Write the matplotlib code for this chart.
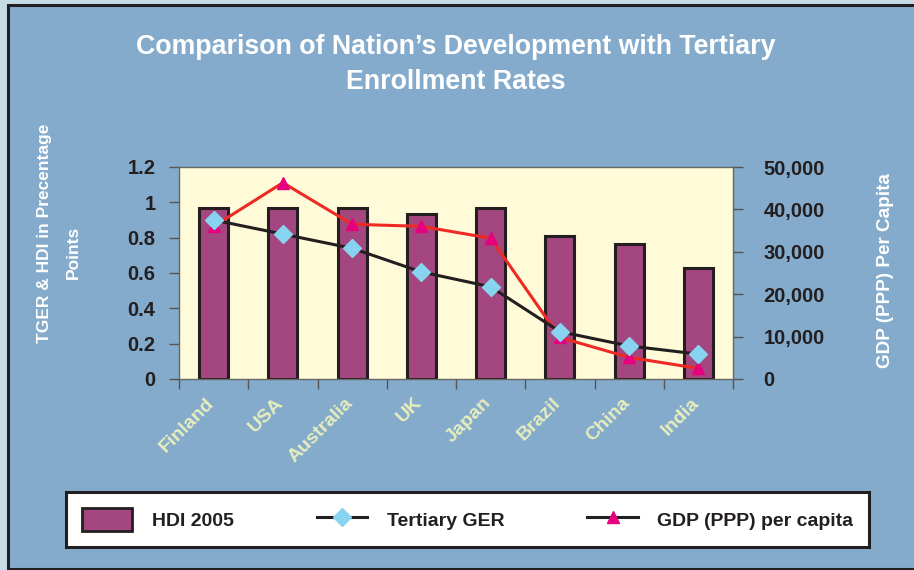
import matplotlib
matplotlib.use("Agg")
import matplotlib.pyplot as plt
from matplotlib.patches import Rectangle, Patch
from matplotlib.lines import Line2D
from matplotlib.ticker import FuncFormatter, FixedLocator
import matplotlib.transforms as mtransforms

# ---- data ----
countries = ["Finland", "USA", "Australia", "UK", "Japan", "Brazil", "China", "India"]
hdi_2005 = [0.966, 0.966, 0.966, 0.936, 0.966, 0.810, 0.764, 0.628]
tertiary_ger = [0.90, 0.82, 0.74, 0.606, 0.522, 0.268, 0.187, 0.141]
gdp_ppp = [36000, 46300, 36500, 36000, 33200, 9800, 5100, 2500]
left_ticks = [0, 0.2, 0.4, 0.6, 0.8, 1.0, 1.2]
left_tick_labels = ["0", "0.2", "0.4", "0.6", "0.8", "1", "1.2"]
right_ticks = [0, 10000, 20000, 30000, 40000, 50000]

# ---- style ----
BG = "#84abcb"
PLOT_BG = "#fffad7"
BAR = "#a4467f"
DIAMOND = "#87d3f0"
TRI = "#e6007e"
REDLINE = "#ee2a24"
DARK = "#231f20"
LABEL_COL = "#e6edbd"
SANS = ["Liberation Sans", "DejaVu Sans"]

W, H = 914, 570
fig = plt.figure(figsize=(W / 100, H / 100), dpi=100)
fig.patch.set_facecolor("#c5dce6")

# frame: dark border with blue fill
fig.patches.append(Rectangle((8 / W, 1 - 569 / H), (W - 8) / W + 0.01, (569 - 5) / H,
                             transform=fig.transFigure, facecolor=BG,
                             edgecolor=DARK, linewidth=2.2, zorder=-10))

ax = fig.add_axes([179 / W, 1 - 379 / H, (733 - 179) / W, (379 - 167) / H])
ax.set_facecolor(PLOT_BG)
x = list(range(len(countries)))
ax.bar(x, hdi_2005, width=0.42, color=BAR, edgecolor=DARK, linewidth=2.2, zorder=2)
ax.set_xlim(-0.5, len(countries) - 0.5)
ax.set_ylim(0, 1.2)
ax.set_yticks(left_ticks)
ax.set_yticklabels(left_tick_labels)
ax.tick_params(axis="y", direction="out", length=7, width=1, color="#555555", pad=10,
               labelsize=14.5, labelcolor=DARK)
for lab in ax.get_yticklabels():
    lab.set_fontweight("bold")
    lab.set_family(SANS)

# x ticks: marks at boundaries, labels at centres
ax.xaxis.set_minor_locator(FixedLocator([i - 0.5 for i in range(len(countries) + 1)]))
ax.set_xticks(x)
ax.set_xticklabels(countries)
ax.tick_params(axis="x", which="major", length=0, pad=11)
ax.tick_params(axis="x", which="minor", direction="out", length=7, width=1, color="#555555")
offset = mtransforms.ScaledTranslation(-8 / 100, 0, fig.dpi_scale_trans)
for lab in ax.get_xticklabels():
    lab.set_rotation(45)
    lab.set_ha("right")
    lab.set_va("top")
    lab.set_rotation_mode("anchor")
    lab.set_color(LABEL_COL)
    lab.set_fontweight("bold")
    lab.set_family(SANS)
    lab.set_fontsize(14)
    lab.set_transform(lab.get_transform() + offset)

for sp in ax.spines.values():
    sp.set_color("#666666")
    sp.set_linewidth(1)

# right axis: GDP
ax2 = ax.twinx()
ax2.set_ylim(0, 50000)
ax2.set_yticks(right_ticks)
ax2.yaxis.set_major_formatter(FuncFormatter(lambda v, p: f"{int(v):,}"))
ax2.tick_params(axis="y", direction="out", length=7, width=1, color="#555555", pad=15,
                labelsize=14.5, labelcolor=DARK)
for lab in ax2.get_yticklabels():
    lab.set_fontweight("bold")
    lab.set_family(SANS)
for sp in ax2.spines.values():
    sp.set_visible(False)
ax2.plot(x, gdp_ppp, color=REDLINE, linewidth=2.2, marker="^", markersize=9,
         markerfacecolor=TRI, markeredgecolor=TRI, zorder=3)

# third axis for GER so it sits on top
ax3 = ax.twinx()
ax3.set_ylim(0, 1.2)
ax3.set_yticks([])
for sp in ax3.spines.values():
    sp.set_visible(False)
ax3.plot(x, tertiary_ger, color=DARK, linewidth=2.2, marker="D", markersize=9,
         markerfacecolor=DIAMOND, markeredgecolor=DIAMOND, zorder=4)

# titles
fig.text(456 / W, 1 - 47 / H, "Comparison of Nation\u2019s Development with Tertiary",
         ha="center", va="center", color="white", fontsize=19.3, fontweight="bold", family=SANS)
fig.text(456 / W, 1 - 82 / H, "Enrollment Rates",
         ha="center", va="center", color="white", fontsize=19.3, fontweight="bold", family=SANS)

# axis titles
fig.text(45 / W, 1 - 233 / H, "TGER & HDI in Precentage", rotation=90, ha="center", va="center",
         color="white", fontsize=12.5, fontweight="bold", family=SANS)
fig.text(73 / W, 1 - 252 / H, "Points", rotation=90, ha="center", va="center",
         color="white", fontsize=12.5, fontweight="bold", family=SANS)
fig.text(885 / W, 1 - 271 / H, "GDP (PPP) Per Capita", rotation=90, ha="center", va="center",
         color="white", fontsize=13.6, fontweight="bold", family=SANS)

# legend
handles = [
    Patch(facecolor=BAR, edgecolor=DARK, linewidth=2),
    Line2D([], [], color=DARK, linewidth=2.2, marker="D", markersize=9,
           markerfacecolor=DIAMOND, markeredgecolor=DIAMOND),
    Line2D([], [], color=DARK, linewidth=2.2, marker="^", markersize=9,
           markerfacecolor=TRI, markeredgecolor=TRI),
]
labels = ["HDI 2005", "Tertiary GER", "GDP (PPP) per capita"]
leg = fig.legend(handles, labels, loc="center",
                 bbox_to_anchor=(66 / W, 1 - 549 / H, (869 - 66) / W, (549 - 490) / H),
                 mode="expand", ncol=3, frameon=True, fancybox=False, borderaxespad=0,
                 handlelength=2.6, handleheight=1.5, handletextpad=1.0, framealpha=1,
                 borderpad=0.8,
                 prop={"family": SANS, "weight": "bold", "size": 14})
for t in leg.get_texts():
    t.set_color(DARK)
leg.get_frame().set_edgecolor(DARK)
leg.get_frame().set_linewidth(2.2)
leg.get_frame().set_facecolor("white")

fig.savefig("out.png", dpi=100, facecolor=fig.get_facecolor())
